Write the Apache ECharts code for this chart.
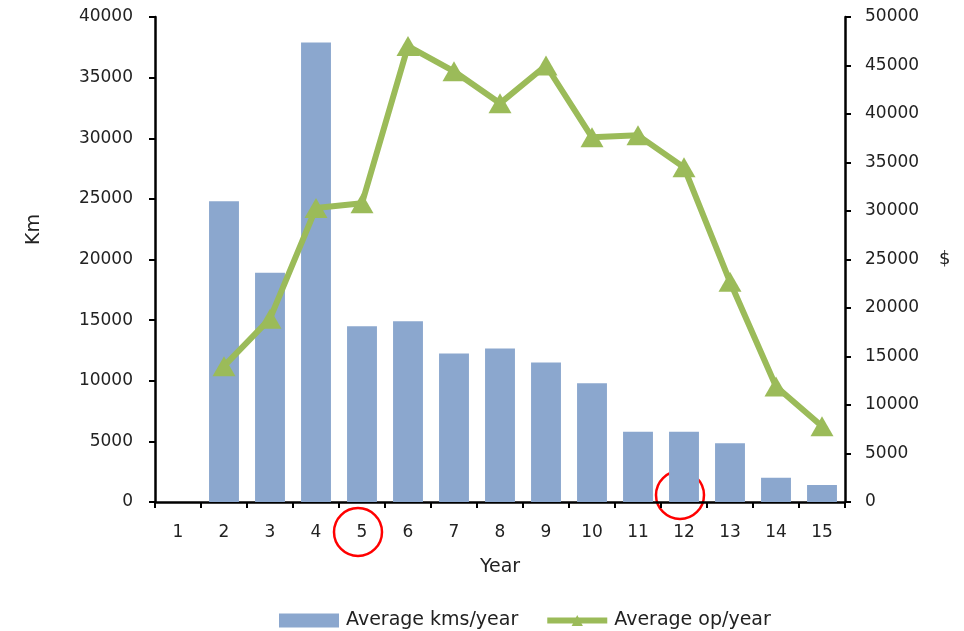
<!DOCTYPE html>
<html>
<head>
<meta charset="utf-8">
<script src="https://cdn.jsdelivr.net/npm/echarts@6/dist/echarts.min.js"></script>
<style>
  html, body { margin: 0; padding: 0; background: #fff; }
  #chart { width: 964px; height: 631px; }
</style>
</head>
<body>
<div id="chart"></div>
<script>
// categories (year)
const years = ['1', '2', '3', '4', '5', '6', '7', '8', '9', '10', '11', '12', '13', '14', '15']
// average kms per year (left axis)
const kmsPerYear = [0, 24800, 18900, 37900, 14500, 14900, 12250, 12650, 11500, 9800, 5800, 5800, 4850, 2000, 1400]
// average operating cost per year (right axis), no value for year 1
const opPerYear = [null, 14000, 18900, 30300, 30800, 47000, 44400, 41100, 45000, 37600, 37800, 34500, 22700, 11900, 7800]
// highlighted years (red circles)
const circled = ['5', '12']

const font = 'DejaVu Sans'
const green = '#9bbb59'
const chart = echarts.init(document.getElementById('chart'))

const axisLine = { show: true, lineStyle: { color: '#000', width: 2.5 } }
const axisTick = { show: true, inside: false, length: 6, lineStyle: { color: '#000', width: 2 } }
const axisLabel = { color: '#222', fontSize: 17, fontFamily: font, formatter: v => String(v) }

let option = {
  animation: false,
  grid: {
    left: 155,
    right: 119,
    top: 17,
    bottom: 129
  },
  legend: {
    bottom: 1,
    left: 279,
    padding: 0,
    itemWidth: 60,
    itemHeight: 14,
    itemGap: 26,
    textStyle: { color: '#222', fontSize: 19, fontFamily: font, padding: [0, 0, 0, 2] },
    data: [
      { name: 'Average kms/year', icon: 'rect' },
      { name: 'Average op/year', lineStyle: { width: 6, color: green } }
    ]
  },
  xAxis: {
    type: 'category',
    data: years,
    name: 'Year',
    nameLocation: 'middle',
    nameGap: 56,
    nameTextStyle: { color: '#222', fontSize: 19, fontFamily: font },
    axisLine: axisLine,
    axisTick: axisTick,
    axisLabel: Object.assign({}, axisLabel, { margin: 22 })
  },
  yAxis: [
    {
      type: 'value',
      position: 'left',
      min: 0,
      max: 40000,
      interval: 5000,
      name: 'Km',
      nameLocation: 'middle',
      nameRotate: 90,
      nameGap: 111,
      nameTextStyle: { color: '#222', fontSize: 19, fontFamily: font, padding: [0, 0, 0, 60] },
      axisLine: axisLine,
      axisTick: axisTick,
      axisLabel: Object.assign({}, axisLabel, { margin: 22 }),
      splitLine: { show: false }
    },
    {
      type: 'value',
      position: 'right',
      min: 0,
      max: 50000,
      interval: 5000,
      name: '$',
      nameLocation: 'middle',
      nameRotate: 0,
      nameGap: 94,
      nameTextStyle: { color: '#222', fontSize: 18, fontFamily: font },
      axisLine: axisLine,
      axisTick: axisTick,
      axisLabel: Object.assign({}, axisLabel, { margin: 20 }),
      splitLine: { show: false }
    }
  ],
  series: [
    {
      name: 'Average kms/year',
      type: 'bar',
      yAxisIndex: 0,
      barWidth: '65%',
      itemStyle: { color: '#8ba7ce' },
      data: kmsPerYear
    },
    {
      name: 'Average op/year',
      type: 'line',
      yAxisIndex: 1,
      symbol: 'triangle',
      symbolSize: [23, 20],
      lineStyle: { color: green, width: 6 },
      itemStyle: { color: green },
      data: opPerYear
    }
  ]
}
chart.setOption(option)

// red circles round the highlighted year label / bar base
const circlePos = [
  chart.convertToPixel({ xAxisIndex: 0, yAxisIndex: 0 }, [circled[0], 0]),
  chart.convertToPixel({ xAxisIndex: 0, yAxisIndex: 0 }, [circled[1], 0])
]
chart.setOption({
  graphic: [
    {
      type: 'circle',
      shape: { cx: circlePos[0][0] - 4, cy: circlePos[0][1] + 30, r: 24 },
      style: { fill: 'none', stroke: '#ff0000', lineWidth: 2.5 }
    },
    {
      type: 'circle',
      shape: { cx: circlePos[1][0] - 4, cy: circlePos[1][1] - 7, r: 24 },
      style: { fill: 'none', stroke: '#ff0000', lineWidth: 2.5 }
    }
  ]
})
</script>
</body>
</html>
